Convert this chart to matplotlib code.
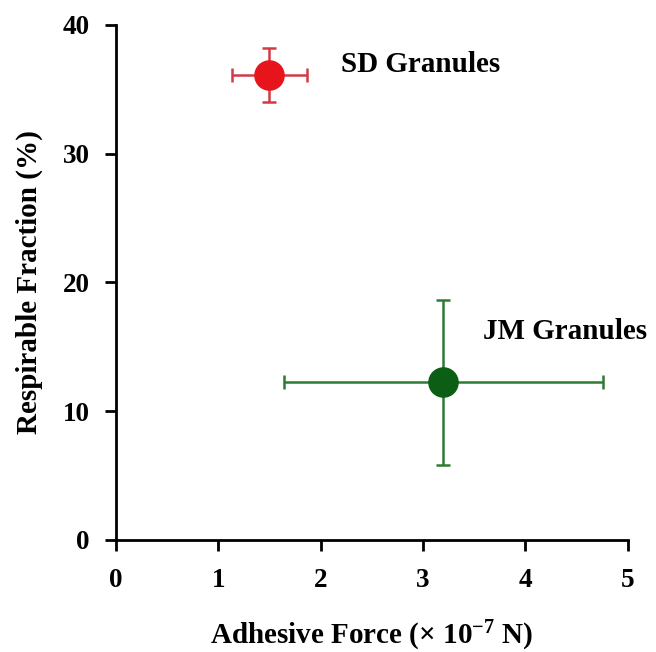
import matplotlib.pyplot as plt

# data
names = ["SD Granules", "JM Granules"]
force = [1.5, 3.2]            # adhesive force (x1e-7 N)
force_err = [0.37, 1.56]
resp = [36.1, 12.25]          # respirable fraction (%)
resp_err = [2.1, 6.4]
colors = ["#e8141b", "#0b5e14"]
bar_colors = ["#d23a45", "#2f7a34"]
label_pos = [(2.2, 36.9), (3.59, 16.15)]

plt.rcParams['font.family'] = ['Liberation Serif', 'DejaVu Serif']
plt.rcParams['font.weight'] = 'bold'
plt.rcParams['mathtext.fontset'] = 'custom'
plt.rcParams['mathtext.rm'] = 'Liberation Serif:bold'
plt.rcParams['mathtext.default'] = 'rm'

fig = plt.figure(figsize=(6.56, 6.52), dpi=100)
ax = fig.add_axes([0.1768, 0.172, 0.78, 0.79])

for i in range(len(names)):
    ax.errorbar(force[i], resp[i], xerr=force_err[i], yerr=resp_err[i],
                fmt='o', color=colors[i], ecolor=bar_colors[i], ms=21,
                elinewidth=1.8, capsize=5, capthick=1.8, zorder=3)
    ax.text(label_pos[i][0], label_pos[i][1], names[i], fontsize=21,
            fontweight='bold', va='center', ha='left')

ax.set_xlim(0, 5)
ax.set_ylim(0, 40)
ax.set_xticks([0, 1, 2, 3, 4, 5])
ax.set_yticks([0, 10, 20, 30, 40])
for s in ['top', 'right']:
    ax.spines[s].set_visible(False)
for s in ['left', 'bottom']:
    ax.spines[s].set_linewidth(2)
ax.tick_params(direction='out', length=8, width=2, labelsize=19.5)
ax.tick_params(axis='y', pad=11)
ax.tick_params(axis='x', pad=12)
for lab in ax.get_xticklabels() + ax.get_yticklabels():
    lab.set_fontweight('bold')

ax.set_xlabel('Adhesive Force (\u00d7 10$^{-7}$ N)', fontsize=21,
              fontweight='bold', labelpad=19)
ax.set_ylabel('Respirable Fraction (%)', fontsize=21, fontweight='bold',
              labelpad=14)

fig.savefig('out.png', dpi=100)
